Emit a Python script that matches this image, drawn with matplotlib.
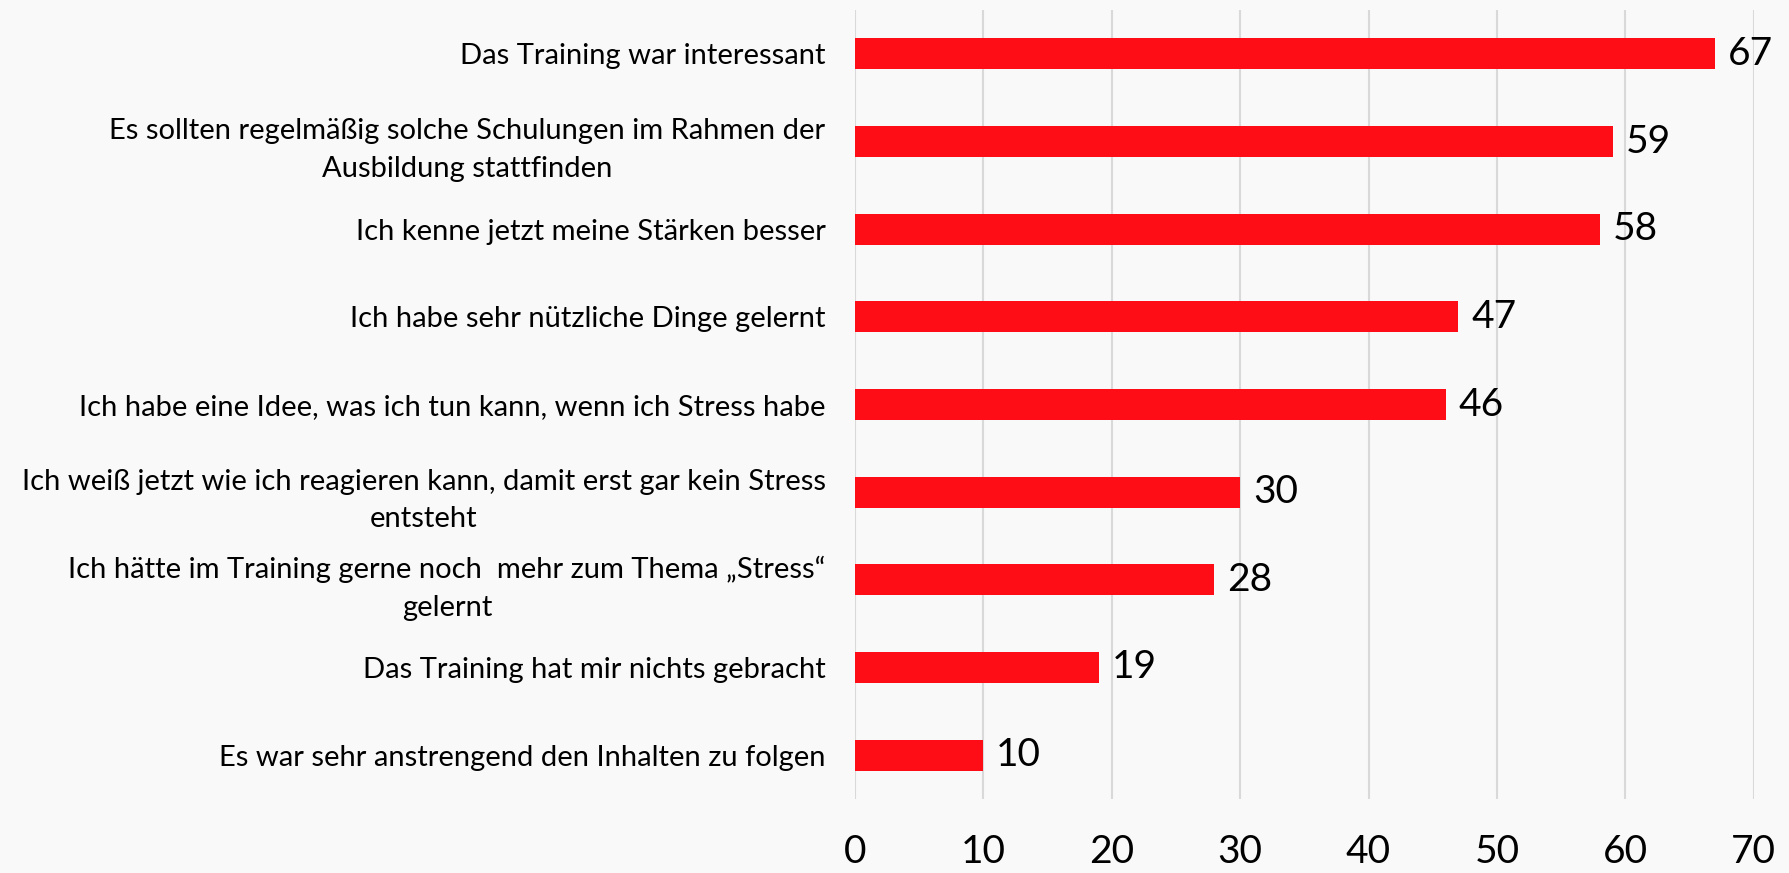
import matplotlib.pyplot as plt
import numpy as np

plt.rcParams['font.family'] = ['Lato', 'DejaVu Sans']

categories = [
    "Das Training war interessant",
    "Es sollten regelmäßig solche Schulungen im Rahmen der\nAusbildung stattfinden",
    "Ich kenne jetzt meine Stärken besser",
    "Ich habe sehr nützliche Dinge gelernt",
    "Ich habe eine Idee, was ich tun kann, wenn ich Stress habe",
    "Ich weiß jetzt wie ich reagieren kann, damit erst gar kein Stress\nentsteht",
    "Ich hätte im Training gerne noch  mehr zum Thema „Stress“\ngelernt",
    "Das Training hat mir nichts gebracht",
    "Es war sehr anstrengend den Inhalten zu folgen",
]
values = [67, 59, 58, 47, 46, 30, 28, 19, 10]
xticks = [0, 10, 20, 30, 40, 50, 60, 70]

bg = '#f9f9f9'
fig = plt.figure(figsize=(17.9, 8.73), dpi=100, facecolor=bg)
ax = fig.add_axes([0.4775, 0.0848, 0.5023, 0.9037], facecolor=bg)

y = np.arange(len(categories))
ax.barh(y, values, height=0.355, color='#ff0d17', zorder=3)
for yi, v in zip(y, values):
    ax.text(v + 1.0, yi, str(v), va='center', ha='left', fontsize=28, color='black')

ax.set_ylim(len(categories) - 0.5, -0.5)
ax.set_xlim(0, 70)
ax.set_xticks(xticks)
ax.set_yticks(y)
ax.set_yticklabels(categories, fontsize=21, multialignment='center', linespacing=1.55)
ax.tick_params(axis='x', length=0, pad=25, labelsize=28)
ax.tick_params(axis='y', length=0, pad=21)
ax.grid(axis='x', color='#d9d9d9', linewidth=1.5, zorder=0)
for s in ax.spines.values():
    s.set_visible(False)

fig.savefig('out.png', dpi=100, facecolor=bg)
